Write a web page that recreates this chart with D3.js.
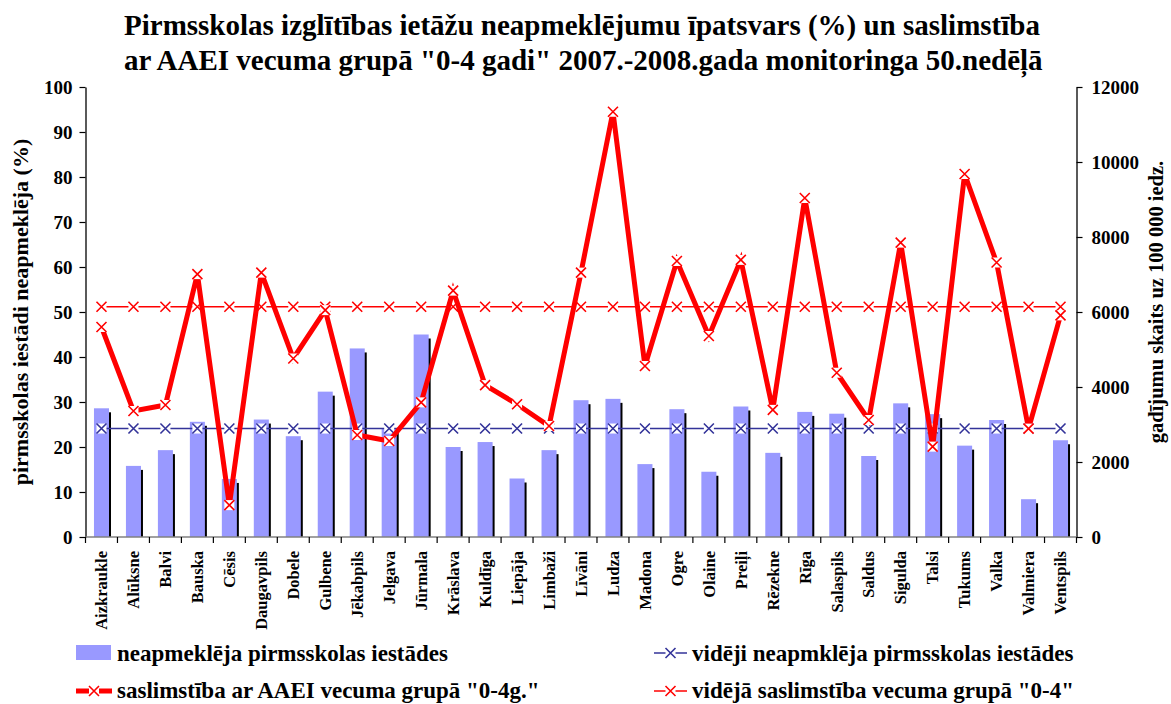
<!DOCTYPE html>
<html>
<head>
<meta charset="utf-8">
<script src="https://cdn.jsdelivr.net/npm/d3@7"></script>
<style>
	body { margin: 0; background: #fff; }
	svg text { font-family: "Liberation Serif", "Times New Roman", "DejaVu Serif", serif; font-weight: bold; fill: #000; }
</style>
</head>
<body>
<div id="chartDiv"></div>
<script>
;(function() {

	var cities = ["Aizkraukle", "Alūksne", "Balvi", "Bauska", "Cēsis", "Daugavpils", "Dobele", "Gulbene",
		"Jēkabpils", "Jelgava", "Jūrmala", "Krāslava", "Kuldīga", "Liepāja", "Limbaži", "Līvāni", "Ludza",
		"Madona", "Ogre", "Olaine", "Preiļi", "Rēzekne", "Rīga", "Salaspils", "Saldus", "Sigulda", "Talsi",
		"Tukums", "Valka", "Valmiera", "Ventspils"];

	// % of children not attending pre-school
	var notAttending = [28.6, 15.8, 19.3, 25.6, 12.9, 26.1, 22.4, 32.3, 41.9, 24.1, 45.0, 20.0, 21.1, 13.0,
		19.3, 30.4, 30.7, 16.2, 28.4, 14.5, 29.0, 18.7, 27.8, 27.4, 18.0, 29.7, 27.3, 20.3, 26.0, 8.4, 21.5];

	// cases per 100 000, age group 0-4
	var incidence = [5600, 3360, 3520, 7010, 850, 7050, 4760, 6050, 2720, 2560, 3590, 6570, 4050, 3540,
		2960, 7050, 11340, 4560, 7360, 5360, 7390, 3390, 9040, 4380, 3120, 7850, 2410, 9680, 7320, 2890, 5910];

	var avgNotAttending = 24.1;
	var avgIncidence = 6140;

	var leftTicks = [0, 10, 20, 30, 40, 50, 60, 70, 80, 90, 100];
	var rightTicks = [0, 2000, 4000, 6000, 8000, 10000, 12000];

	var titleLines = ["Pirmsskolas izglītības ietāžu neapmeklējumu īpatsvars (%) un saslimstība",
		"ar AAEI vecuma grupā \"0-4 gadi\" 2007.-2008.gada monitoringa 50.nedēļā"];
	var yLeftLabel = "pirmsskolas iestādi neapmeklēja (%)";
	var yRightLabel = "gadījumu skaits uz 100 000 iedz.";
	var legendLabels = ["neapmeklēja pirmsskolas iestādes", "saslimstība ar AAEI vecuma grupā \"0-4g.\"",
		"vidēji neapmklēja pirmsskolas iestādes", "vidējā saslimstība vecuma grupā \"0-4\""];

	var width = 1171;
	var height = 704;
	var plot = { left: 85.5, right: 1076.5, top: 87, bottom: 537 };

	var barColor = "#9999ff";
	var navy = "#333399";
	var red = "#ff0000";

	var svg = d3.select("#chartDiv").append("svg")
		.attr("width", width)
		.attr("height", height);

	var xScale = d3.scaleBand()
		.domain(cities)
		.range([plot.left, plot.right])
		.paddingInner(0.53)
		.paddingOuter(0.265);

	var yLeft = d3.scaleLinear().domain([0, 100]).range([plot.bottom, plot.top]);
	var yRight = d3.scaleLinear().domain([0, 12000]).range([plot.bottom, plot.top]);

	function cx(d) { return xScale(d) + xScale.bandwidth() / 2; }

	// title
	svg.append("text")
		.style("font-size", "29px")
		.selectAll("tspan")
		.data(titleLines)
		.enter().append("tspan")
			.attr("x", 124)
			.attr("y", function(d, i) { return 35 + i * 35; })
			.text(function(d) { return d; });

	// bars with shadow
	var bars = svg.append("g");
	bars.selectAll(".shadow")
		.data(cities)
		.enter().append("rect")
			.attr("class", "shadow")
			.attr("x", function(d) { return xScale(d) + 2; })
			.attr("y", function(d, i) { return yLeft(notAttending[i]) + 4; })
			.attr("width", xScale.bandwidth())
			.attr("height", function(d, i) { return Math.max(0, plot.bottom - yLeft(notAttending[i]) - 4); })
			.style("fill", "#000");
	bars.selectAll(".bar")
		.data(cities)
		.enter().append("rect")
			.attr("class", "bar")
			.attr("x", function(d) { return xScale(d); })
			.attr("y", function(d, i) { return yLeft(notAttending[i]); })
			.attr("width", xScale.bandwidth())
			.attr("height", function(d, i) { return plot.bottom - yLeft(notAttending[i]); })
			.style("fill", barColor);

	// axes
	var leftAxis = d3.axisLeft(yLeft).tickValues(leftTicks).tickSize(6).tickSizeOuter(0).tickPadding(7)
		.tickFormat(d3.format("d"));
	var gl = svg.append("g")
		.attr("transform", "translate(" + plot.left + ",0)")
		.call(leftAxis)
		.attr("font-family", null)
		.attr("font-size", null);
	gl.selectAll("text").style("font-size", "19px");

	var rightAxis = d3.axisRight(yRight).tickValues(rightTicks).tickSize(6).tickSizeOuter(0).tickPadding(9)
		.tickFormat(d3.format("d"));
	var gr = svg.append("g")
		.attr("transform", "translate(" + plot.right + ",0)")
		.call(rightAxis)
		.attr("font-family", null)
		.attr("font-size", null);
	gr.selectAll("text").style("font-size", "19px");

	svg.selectAll(".domain").style("stroke", "#000").style("stroke-width", 1.3);
	svg.selectAll(".tick line").style("stroke", "#000").style("stroke-width", 1.2);

	// x axis: line, boundary ticks, rotated labels
	var gx = svg.append("g");
	gx.append("line")
		.attr("x1", plot.left).attr("x2", plot.right)
		.attr("y1", plot.bottom).attr("y2", plot.bottom)
		.style("stroke", "#808080").style("stroke-width", 1.3);
	var step = xScale.step();
	gx.selectAll(".xtick")
		.data(d3.range(cities.length + 1))
		.enter().append("line")
			.attr("x1", function(i) { return plot.left + i * step; })
			.attr("x2", function(i) { return plot.left + i * step; })
			.attr("y1", plot.bottom)
			.attr("y2", plot.bottom + 6)
			.style("stroke", "#000").style("stroke-width", 1.2);
	gx.selectAll(".xlabel")
		.data(cities)
		.enter().append("text")
			.attr("text-anchor", "end")
			.attr("dy", "0.35em")
			.style("font-size", "16.5px")
			.attr("transform", function(d) { return "translate(" + cx(d) + "," + (plot.bottom + 14) + ") rotate(-90)"; })
			.text(function(d) { return d; });

	// axis titles
	svg.append("text")
		.attr("text-anchor", "middle")
		.style("font-size", "22px")
		.attr("transform", "translate(28,312) rotate(-90)")
		.text(yLeftLabel);
	svg.append("text")
		.attr("text-anchor", "middle")
		.style("font-size", "20.5px")
		.attr("transform", "translate(1163,302) rotate(-90)")
		.text(yRightLabel);

	function drawMarker(g, x, y, color) {
		g.append("rect")
			.attr("x", x - 5).attr("y", y - 5)
			.attr("width", 10).attr("height", 10)
			.style("fill", "#fff");
		g.append("path")
			.attr("d", "M" + (x - 5) + "," + (y - 5) + "L" + (x + 5) + "," + (y + 5) +
				"M" + (x + 5) + "," + (y - 5) + "L" + (x - 5) + "," + (y + 5))
			.style("stroke", color).style("stroke-width", 1.6).style("fill", "none");
	}

	// average lines
	var avgLines = [
		{ scale: yLeft, value: avgNotAttending, color: navy },
		{ scale: yRight, value: avgIncidence, color: red }
	];
	avgLines.forEach(function(a) {
		var g = svg.append("g");
		var yy = a.scale(a.value);
		g.append("line")
			.attr("x1", cx(cities[0])).attr("x2", cx(cities[cities.length - 1]))
			.attr("y1", yy).attr("y2", yy)
			.style("stroke", a.color).style("stroke-width", 1.6);
		cities.forEach(function(c) { drawMarker(g, cx(c), yy, a.color); });
	});

	// incidence line
	var line = d3.line()
		.x(function(d, i) { return cx(cities[i]); })
		.y(function(d) { return yRight(d); });
	var gi = svg.append("g");
	gi.append("path")
		.datum(incidence)
		.attr("d", line)
		.style("fill", "none")
		.style("stroke", red)
		.style("stroke-width", 5)
		.style("stroke-linejoin", "miter");
	incidence.forEach(function(v, i) { drawMarker(gi, cx(cities[i]), yRight(v), red); });

	// legend
	var lg = svg.append("g");
	lg.append("rect")
		.attr("x", 76).attr("y", 645).attr("width", 35).attr("height", 15)
		.style("fill", barColor);
	lg.append("line")
		.attr("x1", 76).attr("x2", 112).attr("y1", 691).attr("y2", 691)
		.style("stroke", red).style("stroke-width", 5);
	drawMarker(lg, 94, 691, red);
	[[654, 687, 653, navy], [654, 687, 691, red]].forEach(function(s) {
		lg.append("line")
			.attr("x1", s[0]).attr("x2", s[1]).attr("y1", s[2]).attr("y2", s[2])
			.style("stroke", s[3]).style("stroke-width", 1.6);
		drawMarker(lg, (s[0] + s[1]) / 2, s[2], s[3]);
	});
	var legendPos = [[117, 653], [117, 690], [692, 653], [692, 690]];
	lg.selectAll(".ltext")
		.data(legendLabels)
		.enter().append("text")
			.attr("x", function(d, i) { return legendPos[i][0]; })
			.attr("y", function(d, i) { return legendPos[i][1]; })
			.attr("dy", "0.35em")
			.style("font-size", "23px")
			.text(function(d) { return d; });

})();
</script>
</body>
</html>
